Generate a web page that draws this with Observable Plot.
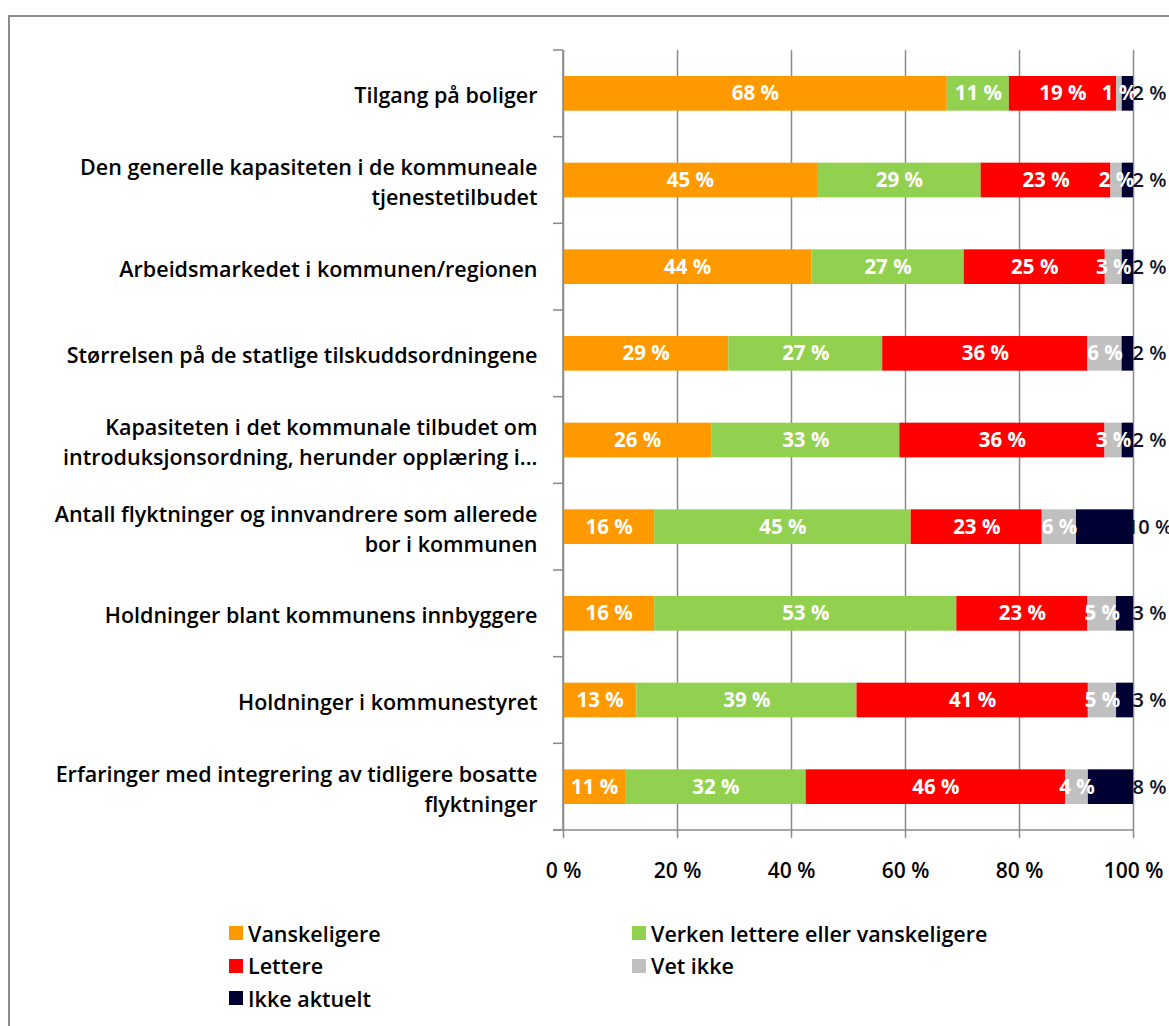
<!DOCTYPE html>
<html><head><meta charset="utf-8">
<script src="https://cdn.jsdelivr.net/npm/d3@7"></script>
<script src="https://cdn.jsdelivr.net/npm/@observablehq/plot@0.6"></script>
<style>
html,body{margin:0;padding:0;background:#fff;overflow:hidden;width:1169px;height:1026px;}
#wrap{position:relative;width:1169px;height:1026px;font-family:"Open Sans",sans-serif;overflow:hidden;}
#chart{position:absolute;left:0;top:0;}
#frame{position:absolute;left:8px;top:15px;width:1300px;height:1100px;border:2px solid #8c8c8c;box-sizing:border-box;pointer-events:none;}
#legend{position:absolute;left:229px;top:917px;display:grid;grid-template-columns:403px 400px;grid-auto-rows:32.5px;font-size:21.5px;font-weight:600;color:#000;}
#legend .item{display:flex;align-items:center;white-space:nowrap;}
#legend .sw{width:14px;height:14px;margin-right:5px;display:inline-block;}
</style>
</head><body>
<div id="wrap"><div id="chart"></div><div id="legend"></div><div id="frame"></div></div>
<script>
const categories = [
  "Tilgang på boliger",
  "Den generelle kapasiteten i de kommuneale\ntjenestetilbudet",
  "Arbeidsmarkedet i kommunen/regionen",
  "Størrelsen på de statlige tilskuddsordningene",
  "Kapasiteten i det kommunale tilbudet om\nintroduksjonsordning, herunder opplæring i...",
  "Antall flyktninger og innvandrere som allerede\nbor i kommunen",
  "Holdninger blant kommunens innbyggere",
  "Holdninger i kommunestyret",
  "Erfaringer med integrering av tidligere bosatte\nflyktninger"
];
const series = ["Vanskeligere", "Verken lettere eller vanskeligere", "Lettere", "Vet ikke", "Ikke aktuelt"];
const colors = ["#FF9900", "#92D050", "#FF0000", "#C0C0C0", "#000033"];
const vanskeligere = [68, 45, 44, 29, 26, 16, 16, 13, 11];
const verken       = [11, 29, 27, 27, 33, 45, 53, 39, 32];
const lettere      = [19, 23, 25, 36, 36, 23, 23, 41, 46];
const vetIkke      = [1, 2, 3, 6, 3, 6, 5, 5, 4];
const ikkeAktuelt  = [2, 2, 2, 2, 2, 10, 3, 3, 8];
const xTicks = [0, 20, 40, 60, 80, 100];

const seriesValues = [vanskeligere, verken, lettere, vetIkke, ikkeAktuelt];
const data = [];
categories.forEach((c, i) => {
  series.forEach((s, j) => data.push({category: c, series: s, value: seriesValues[j][i]}));
});

const W = 1169, H = 895, ML = 563, MR = 36, MT = 50, MB = 65;
const lastSeries = series[series.length - 1];

const plot = Plot.plot({
  width: W, height: H,
  marginLeft: ML, marginRight: MR, marginTop: MT, marginBottom: MB,
  style: {fontFamily: '"Open Sans", sans-serif', background: "transparent", overflow: "visible"},
  x: {domain: [0, 1], axis: null, label: null},
  y: {domain: categories, paddingInner: 0.6, paddingOuter: 0.3, round: false, axis: null, label: null},
  color: {domain: series, range: colors},
  marks: [
    Plot.gridX(xTicks.map(d => d / 100), {stroke: "#8a8a8a", strokeOpacity: 1, strokeWidth: 1.5}),
    Plot.barX(data, Plot.stackX({x: "value", y: "category", fill: "series", offset: "normalize", order: series})),
    Plot.text(data, Plot.stackX({
      x: "value", y: "category", z: "series", offset: "normalize", order: series,
      text: d => d.series === lastSeries ? "" : d.value + " %",
      fill: "white", fontSize: 20.5, fontWeight: 700
    })),
    Plot.text(data, Plot.stackX2({
      x: "value", y: "category", z: "series", offset: "normalize", order: series,
      text: d => d.series === lastSeries ? d.value + " %" : "",
      fill: "#111122", fontSize: 20, fontWeight: 600, dx: 16
    })),
    Plot.text(categories, {
      y: d => d, text: d => d, frameAnchor: "left", dx: -26, textAnchor: "end",
      lineHeight: 1.4, fontSize: 21.5, fontWeight: 600, fill: "#000", ariaLabel: "category-labels"
    }),
    Plot.axisX(xTicks.map(d => d / 100), {
      label: null,
      tickSize: 8, tickPadding: 25, stroke: "#8a8a8a", strokeWidth: 1.5,
      tickFormat: d => `${Math.round(d * 100)} %`, fontSize: 21, fontWeight: 600, fill: "#000"
    })
  ]
});

document.getElementById("chart").appendChild(plot);

// center multi-line category labels like the reference
d3.select(plot).selectAll('g[aria-label="category-labels"] text').each(function() {
  const w = this.getBBox().width;
  const t = d3.select(this);
  t.attr("text-anchor", "middle");
  const sp = t.selectAll("tspan");
  if (sp.size()) sp.attr("x", -w / 2); else t.attr("x", -w / 2);
});

// axis lines and band boundary ticks derived from scales
const ys = plot.scale("y");
const xs = plot.scale("x");
const x0 = xs.apply(0), x1 = xs.apply(1);
const bounds = categories.map(c => ys.apply(c) - (ys.step - ys.bandwidth) / 2);
bounds.push(bounds[bounds.length - 1] + ys.step);
const svg = d3.select(plot);
const g = svg.append("g").attr("stroke", "#8a8a8a").attr("stroke-width", 1.5);
g.append("line").attr("x1", x0 - 10).attr("x2", x1).attr("y1", bounds[bounds.length - 1]).attr("y2", bounds[bounds.length - 1]);
g.append("line").attr("x1", x0).attr("x2", x0).attr("y1", bounds[0]).attr("y2", bounds[bounds.length - 1]);
bounds.forEach(b => g.append("line").attr("x1", x0 - 10).attr("x2", x0).attr("y1", b).attr("y2", b));

// legend
const legend = d3.select("#legend");
series.forEach((s, i) => {
  const it = legend.append("div").attr("class", "item");
  it.append("span").attr("class", "sw").style("background", colors[i]);
  it.append("span").text(s);
});
</script>
</body></html>
